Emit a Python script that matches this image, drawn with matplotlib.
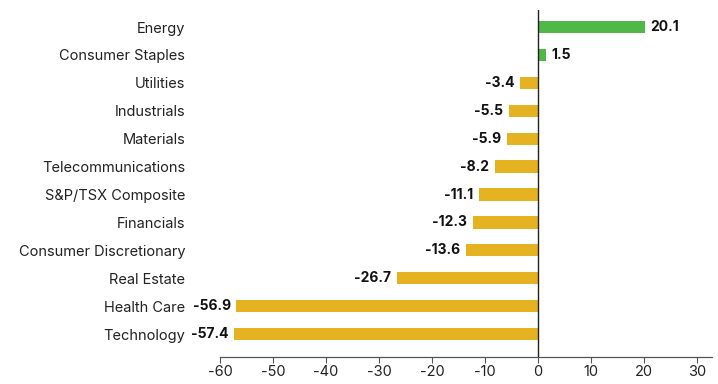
import matplotlib
matplotlib.use("Agg")
import matplotlib.pyplot as plt

# --- datos ---
sectores = ["Energy", "Consumer Staples", "Utilities", "Industrials", "Materials",
            "Telecommunications", "S&P/TSX Composite", "Financials",
            "Consumer Discretionary", "Real Estate", "Health Care", "Technology"]
valores = [20.1, 1.5, -3.4, -5.5, -5.9, -8.2, -11.1, -12.3, -13.6, -26.7, -56.9, -57.4]
ticks_x = [-60, -50, -40, -30, -20, -10, 0, 10, 20, 30]

verde = '#4fb848'
dorado = '#e5b321'
plt.rcParams['font.family'] = ['Inter', 'DejaVu Sans']

fig = plt.figure(figsize=(7.18, 3.84), dpi=100)
ax = fig.add_axes([0.3064, 0.0703, 0.6852, 0.9037])

pos = list(range(len(sectores)))
colores = [verde if v > 0 else dorado for v in valores]
ax.barh(pos, valores, height=0.44, color=colores, zorder=2)

for y, v in zip(pos, valores):
    if v >= 0:
        ax.annotate(f"{v:.1f}", (v, y), xytext=(4, 0), textcoords='offset points',
                    ha='left', va='center', fontsize=10, fontweight='bold', color='#111111')
    else:
        ax.annotate(f"{v:.1f}", (v, y), xytext=(-4, 0), textcoords='offset points',
                    ha='right', va='center', fontsize=10, fontweight='bold', color='#111111',
                    annotation_clip=False)

ax.axvline(0, color='#222222', linewidth=1.0, zorder=3)

ax.set_xlim(-60, 32.8)
ax.set_ylim(11.82, -0.61)
ax.set_yticks(pos)
ax.set_yticklabels(sectores, fontsize=10.5, color='#222222')
ax.set_xticks(ticks_x)
ax.set_xticklabels([str(t) for t in ticks_x], fontsize=10.5, color='#222222')
ax.tick_params(axis='y', length=0, pad=25)
ax.tick_params(axis='x', length=4, width=0.8, color='#555555', pad=2)

for s in ['top', 'right', 'left']:
    ax.spines[s].set_visible(False)
ax.spines['bottom'].set_color('#555555')
ax.spines['bottom'].set_linewidth(0.9)

fig.savefig('out.png', dpi=100)
